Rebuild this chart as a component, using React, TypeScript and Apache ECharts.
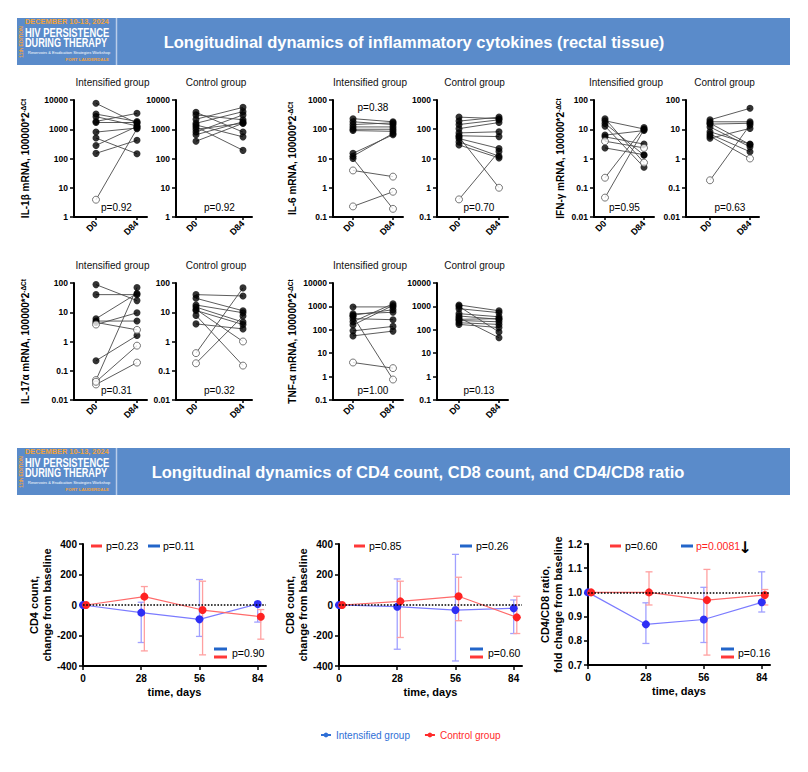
import React, { useEffect, useRef } from "react";
import * as echarts from "echarts";

const FONT = "'Liberation Sans', Arial, Helvetica, sans-serif";

// ---------------- Cytokine data (100000*2^-ΔCt), pairs D0 -> D84 ----------------
const TIMEPOINTS = ["D0", "D84"];
const GROUP_TITLES = ["Intensified group", "Control group"];

const IL1B_INT_D0 = [7700, 3300, 2700, 1850, 1700, 800, 500, 280, 150, 3.9];
const IL1B_INT_D84 = [1600, 1850, 1300, 3500, 1700, 1100, 145, 1250, 420, 1050];
const IL1B_INT_OPEN_D0 = [9];
const IL1B_INT_OPEN_D84: number[] = [];
const IL1B_CTRL_D0 = [3800, 3100, 2200, 1600, 1400, 1000, 800, 650, 390, 1200];
const IL1B_CTRL_D84 = [800, 2100, 5600, 4000, 550, 1600, 3100, 1800, 1600, 190];
const IL1B_CTRL_OPEN_D0: number[] = [];
const IL1B_CTRL_OPEN_D84: number[] = [];
const IL1B_P = ["p=0.92", "p=0.92"];

const IL6_INT_D0 = [230, 180, 145, 120, 100, 90, 15, 12, 10, 3.9, 0.23];
const IL6_INT_D84 = [180, 145, 165, 120, 100, 85, 65, 72, 0.19, 2.4, 0.73];
const IL6_INT_OPEN_D0 = [9, 10];
const IL6_INT_OPEN_D84 = [8, 9, 10];
const IL6_CTRL_D0 = [260, 190, 145, 105, 75, 60, 48, 37, 29, 55, 0.4];
const IL6_CTRL_D84 = [230, 260, 210, 170, 82, 56, 22, 12, 10.5, 1.0, 17.5];
const IL6_CTRL_OPEN_D0 = [10];
const IL6_CTRL_OPEN_D84 = [9];
const IL6_P = ["p=0.38", "p=0.70"];

const IFNG_INT_D0 = [23, 19.5, 15.8, 12.8, 6.3, 5.5, 3.9, 2.3, 0.22, 0.046];
const IFNG_INT_D84 = [0.72, 10.2, 1.3, 0.5, 9, 3.1, 2.3, 1.35, 11.5, 9.8];
const IFNG_INT_OPEN_D0 = [6, 8, 9];
const IFNG_INT_OPEN_D84 = [0, 6];
const IFNG_CTRL_D0 = [21, 18, 15, 12, 8.2, 6.8, 5.8, 4.9, 0.18, 16];
const IFNG_CTRL_D84 = [52, 18, 16, 2.5, 3.1, 1.7, 1.0, 10.7, 14, 3];
const IFNG_CTRL_OPEN_D0 = [8];
const IFNG_CTRL_OPEN_D84 = [6];
const IFNG_P = ["p=0.95", "p=0.63"];

const IL17_INT_D0 = [88, 40, 6, 5, 4.5, 0.22, 0.048, 0.034, 0.042, 3.8];
const IL17_INT_D84 = [25, 40, 44, 5, 2.5, 1.6, 70, 0.19, 0.72, 9.6];
const IL17_INT_OPEN_D0 = [6, 7, 8, 9];
const IL17_INT_OPEN_D84 = [4, 7, 8];
const IL17_CTRL_D0 = [40, 30, 17.7, 15, 11.5, 7.8, 12.5, 4, 0.4, 0.18];
const IL17_CTRL_D84 = [36, 11.2, 9.6, 4.6, 3.8, 0.15, 1.0, 2.7, 68, 7.4];
const IL17_CTRL_OPEN_D0 = [8, 9];
const IL17_CTRL_OPEN_D84 = [5, 6];
const IL17_P = ["p=0.31", "p=0.32"];

const TNF_INT_D0 = [950, 480, 380, 300, 220, 160, 90, 55, 4, 420];
const TNF_INT_D84 = [950, 560, 0.75, 270, 1300, 1100, 140, 88, 2.3, 720];
const TNF_INT_OPEN_D0 = [8];
const TNF_INT_OPEN_D84 = [2, 8];
const TNF_CTRL_D0 = [1150, 1000, 800, 490, 390, 330, 250, 200, 170, 280];
const TNF_CTRL_D84 = [650, 80, 540, 360, 280, 46, 220, 170, 125, 300];
const TNF_CTRL_OPEN_D0: number[] = [];
const TNF_CTRL_OPEN_D84: number[] = [];
const TNF_P = ["p=1.00", "p=0.13"];

// ---------------- CD4 / CD8 data: median with error range ----------------
const DAYS = [0, 28, 56, 84];
const CONTROL_DAY_OFFSET = 1.5;

const CD4_INT_MED = [0, -50, -94, 7];
const CD4_INT_LOW = [0, -246, -206, -112];
const CD4_INT_HIGH = [0, 18, 167, 22];
const CD4_CTRL_MED = [0, 55, -33, -77];
const CD4_CTRL_LOW = [0, -301, -327, -224];
const CD4_CTRL_HIGH = [0, 121, 156, -30];
const CD4_P = ["p=0.23", "p=0.11", "p=0.90"];

const CD8_INT_MED = [0, -11, -33, -22];
const CD8_INT_LOW = [0, -290, -367, -187];
const CD8_INT_HIGH = [0, 171, 332, 33];
const CD8_CTRL_MED = [0, 24, 57, -81];
const CD8_CTRL_LOW = [0, -213, -103, -187];
const CD8_CTRL_HIGH = [0, 156, 182, 57];
const CD8_P = ["p=0.85", "p=0.26", "p=0.60"];

const RATIO_INT_MED = [1, 0.868, 0.888, 0.959];
const RATIO_INT_LOW = [1, 0.789, 0.793, 0.919];
const RATIO_INT_HIGH = [1, 0.957, 1.021, 1.085];
const RATIO_CTRL_MED = [1, 1.0, 0.968, 0.989];
const RATIO_CTRL_LOW = [1, 0.948, 0.741, 0.948];
const RATIO_CTRL_HIGH = [1, 1.085, 1.095, 1.012];
const RATIO_P = ["p=0.60", "p=0.0081", "p=0.16"];

const LEGEND_NAMES = ["Intensified group", "Control group"];

// ---------------- styling ----------------
const BLUE_PT = "#2e2ef5";
const BLUE_LINE = "#7b7bff";
const BLUE_ERR = "#a0a0ff";
const RED_PT = "#ff2222";
const RED_LINE = "#ff6a6a";
const RED_ERR = "#ffa0a0";
const DASH_RED = "#ff3838";
const DASH_BLUE = "#2265c9";
const BANNER = "#5a8bca";
const ORANGE = "#f2a33a";

function logLabel(v: number) {
  const e = Math.round(Math.log10(v));
  return e >= 0 ? String(Math.round(Math.pow(10, e))) : Math.pow(10, e).toFixed(-e);
}

function txt(text: string, x: number, y: number, o: any = {}) {
  const align = o.align || "center";
  const va = o.va || "middle";
  return {
    type: "text",
    x,
    y,
    rotation: o.rotation || 0,
    scaleX: o.scaleX || 1,
    z: 100,
    silent: true,
    style: {
      text,
      fill: o.color || "#000",
      font: `${o.weight || "normal"} ${o.size || 10}px ${o.family || FONT}`,
      align,
      verticalAlign: va,
      textAlign: align,
      textVerticalAlign: va,
    },
  };
}

export default function App() {
  const ref = useRef<HTMLDivElement>(null);

  useEffect(() => {
    if (!ref.current) return;
    const chart = echarts.init(ref.current, undefined, { renderer: "svg" });

    const grids: any[] = [];
    const xAxes: any[] = [];
    const yAxes: any[] = [];
    const series: any[] = [];
    const g: any[] = [];

    // ---------- banners ----------
    const banner = (y: number, title: string, titleX: number) => {
      g.push({ type: "rect", shape: { x: 17, y, width: 773, height: 47 }, style: { fill: BANNER }, z: 90, silent: true });
      g.push({ type: "line", shape: { x1: 116.5, y1: y, x2: 116.5, y2: y + 47 }, style: { stroke: "#b9cdea", lineWidth: 1.5 }, z: 91, silent: true });
      g.push(txt("DECEMBER 10-13, 2024", 25, y + 3.5, { align: "left", color: ORANGE, weight: "bold", size: 7.4 }));
      g.push(txt("HIV PERSISTENCE", 25, y + 14, { align: "left", color: "#fff", weight: "bold", size: 12.5, scaleX: 0.75 }));
      g.push(txt("DURING THERAPY", 25, y + 24.5, { align: "left", color: "#fff", weight: "bold", size: 12.5, scaleX: 0.73 }));
      g.push(txt("Reservoirs & Eradication Strategies Workshop", 28, y + 34.5, { align: "left", color: "#fff", size: 4 }));
      g.push(txt("FORT LAUDERDALE", 109, y + 41.5, { align: "right", color: ORANGE, weight: "bold", size: 4.4 }));
      g.push(txt("11th EDITION", 21, y + 24, { color: ORANGE, weight: "bold", size: 5, rotation: Math.PI / 2 }));
      g.push(txt(title, titleX, y + 23.5, { color: "#fff", weight: "bold", size: 16.5 }));
    };
    banner(18, "Longitudinal dynamics of inflammatory cytokines (rectal tissue)", 414);
    banner(448, "Longitudinal dynamics of CD4 count, CD8 count, and CD4/CD8 ratio", 418);

    // ---------- dot plots ----------
    const ROW1 = { top: 100, height: 117 };
    const ROW2 = { top: 283, height: 117 };
    const COL_A = { nameX: 24, cols: [{ axis: 74, d0: 96, d84: 137, end: 147 }, { axis: 176, d0: 196, d84: 243, end: 252 }] };
    const COL_B = { nameX: 291, cols: [{ axis: 333, d0: 353, d84: 393, end: 403 }, { axis: 437, d0: 459, d84: 499, end: 508 }] };
    const COL_C = { nameX: 559, cols: [{ axis: 594, d0: 605, d84: 644, end: 654 }, { axis: 686, d0: 710, d84: 750, end: 759 }] };

    const PANELS = [
      { row: ROW1, col: COL_A, label: "IL-1β", yMin: 1, yMax: 10000, p: IL1B_P, pTop: [false, false],
        data: [[IL1B_INT_D0, IL1B_INT_D84, IL1B_INT_OPEN_D0, IL1B_INT_OPEN_D84], [IL1B_CTRL_D0, IL1B_CTRL_D84, IL1B_CTRL_OPEN_D0, IL1B_CTRL_OPEN_D84]] },
      { row: ROW1, col: COL_B, label: "IL-6", yMin: 0.1, yMax: 1000, p: IL6_P, pTop: [true, false],
        data: [[IL6_INT_D0, IL6_INT_D84, IL6_INT_OPEN_D0, IL6_INT_OPEN_D84], [IL6_CTRL_D0, IL6_CTRL_D84, IL6_CTRL_OPEN_D0, IL6_CTRL_OPEN_D84]] },
      { row: ROW1, col: COL_C, label: "IFN-γ", yMin: 0.01, yMax: 100, p: IFNG_P, pTop: [false, false],
        data: [[IFNG_INT_D0, IFNG_INT_D84, IFNG_INT_OPEN_D0, IFNG_INT_OPEN_D84], [IFNG_CTRL_D0, IFNG_CTRL_D84, IFNG_CTRL_OPEN_D0, IFNG_CTRL_OPEN_D84]] },
      { row: ROW2, col: COL_A, label: "IL-17α", yMin: 0.01, yMax: 100, p: IL17_P, pTop: [false, false],
        data: [[IL17_INT_D0, IL17_INT_D84, IL17_INT_OPEN_D0, IL17_INT_OPEN_D84], [IL17_CTRL_D0, IL17_CTRL_D84, IL17_CTRL_OPEN_D0, IL17_CTRL_OPEN_D84]] },
      { row: ROW2, col: COL_B, label: "TNF-α", yMin: 0.1, yMax: 10000, p: TNF_P, pTop: [false, false],
        data: [[TNF_INT_D0, TNF_INT_D84, TNF_INT_OPEN_D0, TNF_INT_OPEN_D84], [TNF_CTRL_D0, TNF_CTRL_D84, TNF_CTRL_OPEN_D0, TNF_CTRL_OPEN_D84]] },
    ];

    PANELS.forEach((pan) => {
      pan.col.cols.forEach((c, gi) => {
        const idx = grids.length;
        const u = c.d84 - c.d0;
        const [d0, d84, o0, o84] = pan.data[gi] as number[][];
        grids.push({ left: c.axis, top: pan.row.top, width: c.end - c.axis, height: pan.row.height });
        xAxes.push({
          gridIndex: idx,
          type: "value",
          min: -(c.d0 - c.axis) / u,
          max: 1 + (c.end - c.d84) / u,
          axisLine: { show: true, onZero: false, lineStyle: { color: "#000", width: 2 } },
          axisTick: { show: true, customValues: [0, 1], length: 3, lineStyle: { color: "#000", width: 1.5 } },
          axisLabel: {
            customValues: [0, 1],
            formatter: (v: number) => TIMEPOINTS[Math.round(v)],
            rotate: 45,
            fontSize: 9,
            fontWeight: "bold",
            fontFamily: FONT,
            color: "#000",
            margin: 5,
          },
          splitLine: { show: false },
        });
        const yAxis: any = {
          gridIndex: idx,
          type: "log",
          logBase: 10,
          min: pan.yMin,
          max: pan.yMax,
          axisLine: { show: true, onZero: false, lineStyle: { color: "#000", width: 2 } },
          axisTick: { show: true, length: 4, lineStyle: { color: "#000", width: 1.5 } },
          minorTick: { show: false },
          axisLabel: { formatter: logLabel, fontSize: 8.5, fontWeight: "bold", fontFamily: FONT, color: "#000", margin: 6 },
          splitLine: { show: false },
        };
        if (gi === 0) {
          yAxis.name = `{m|${pan.label} mRNA, 100000*2}{s|-ΔCt}`;
          yAxis.nameLocation = "middle";
          yAxis.nameRotate = 90;
          yAxis.nameGap = c.axis - (pan.col.nameX + 6);
          yAxis.nameTextStyle = {
            rich: {
              m: { fontSize: 10, fontWeight: "bold", fontFamily: FONT, color: "#000" },
              s: { fontSize: 6.5, fontWeight: "bold", fontFamily: FONT, color: "#000", verticalAlign: "top" },
            },
          };
        }
        yAxes.push(yAxis);

        d0.forEach((v, i) => {
          series.push({
            type: "line",
            xAxisIndex: idx,
            yAxisIndex: idx,
            data: [[0, v], [1, d84[i]]],
            symbol: "none",
            silent: true,
            lineStyle: { color: "#4a4a4a", width: 0.9 },
            z: 2,
          });
        });
        const filled: number[][] = [];
        const open: number[][] = [];
        d0.forEach((v, i) => (o0.includes(i) ? open : filled).push([0, v]));
        d84.forEach((v, i) => (o84.includes(i) ? open : filled).push([1, v]));
        series.push({ type: "scatter", xAxisIndex: idx, yAxisIndex: idx, data: filled, symbol: "circle", symbolSize: 7, itemStyle: { color: "#000" }, silent: true, z: 4 });
        series.push({ type: "scatter", xAxisIndex: idx, yAxisIndex: idx, data: open, symbol: "circle", symbolSize: 7, itemStyle: { color: "#fff", borderColor: "#555", borderWidth: 1 }, silent: true, z: 4 });

        const cx = (c.d0 + c.d84) / 2;
        g.push(txt(GROUP_TITLES[gi], (c.axis + c.end) / 2 + 2, pan.row.top - 18, { size: 10, color: "#111" }));
        const py = pan.pTop[gi] ? pan.row.top + 7 : pan.row.top + pan.row.height - 10;
        g.push(txt(pan.p[gi], cx, py, { size: 10 }));
      });
    });

    // ---------- time-course panels ----------
    const errSeries = (idx: number, xs: number[], low: number[], high: number[], color: string) => ({
      type: "custom",
      xAxisIndex: idx,
      yAxisIndex: idx,
      silent: true,
      z: 1,
      data: xs.map((x, i) => [x, low[i], high[i]]).filter((d) => d[1] !== d[2]),
      encode: { x: 0, y: [1, 2] },
      renderItem: (_p: any, api: any) => {
        const x = api.value(0);
        const a = api.coord([x, api.value(1)]);
        const b = api.coord([x, api.value(2)]);
        const st = { stroke: color, lineWidth: 1.3 };
        const cap = 3.5;
        return {
          type: "group",
          children: [
            { type: "line", shape: { x1: a[0], y1: a[1], x2: b[0], y2: b[1] }, style: st },
            { type: "line", shape: { x1: a[0] - cap, y1: a[1], x2: a[0] + cap, y2: a[1] }, style: st },
            { type: "line", shape: { x1: b[0] - cap, y1: b[1], x2: b[0] + cap, y2: b[1] }, style: st },
          ],
        };
      },
    });

    const TIME_PANELS = [
      { left: 83, top: 544, width: 183, height: 122, yMin: -400, yMax: 400, interval: 200, base: 0, dec: 0,
        name: "CD4 count,\nchange from baseline", nameGap: 27,
        med: [CD4_INT_MED, CD4_CTRL_MED], low: [CD4_INT_LOW, CD4_CTRL_LOW], high: [CD4_INT_HIGH, CD4_CTRL_HIGH] },
      { left: 339, top: 544, width: 183, height: 122, yMin: -400, yMax: 400, interval: 200, base: 0, dec: 0,
        name: "CD8 count,\nchange from baseline", nameGap: 26,
        med: [CD8_INT_MED, CD8_CTRL_MED], low: [CD8_INT_LOW, CD8_CTRL_LOW], high: [CD8_INT_HIGH, CD8_CTRL_HIGH] },
      { left: 588, top: 544, width: 182, height: 121, yMin: 0.7, yMax: 1.2, interval: 0.1, base: 1, dec: 1,
        name: "CD4/CD8 ratio,\nfold change from baseline", nameGap: 21,
        med: [RATIO_INT_MED, RATIO_CTRL_MED], low: [RATIO_INT_LOW, RATIO_CTRL_LOW], high: [RATIO_INT_HIGH, RATIO_CTRL_HIGH] },
    ];

    TIME_PANELS.forEach((tp) => {
      const idx = grids.length;
      grids.push({ left: tp.left, top: tp.top, width: tp.width, height: tp.height });
      xAxes.push({
        gridIndex: idx,
        type: "value",
        min: 0,
        max: 88,
        interval: 28,
        axisLine: { show: true, onZero: false, lineStyle: { color: "#000", width: 2 } },
        axisTick: { show: true, customValues: DAYS, length: 4, lineStyle: { color: "#000", width: 1.5 } },
        axisLabel: { customValues: DAYS, fontSize: 10, fontWeight: "bold", fontFamily: FONT, color: "#000", margin: 7 },
        splitLine: { show: false },
        name: "time, days",
        nameLocation: "middle",
        nameGap: 20,
        nameTextStyle: { fontSize: 11, fontWeight: "bold", fontFamily: FONT, color: "#000" },
      });
      yAxes.push({
        gridIndex: idx,
        type: "value",
        min: tp.yMin,
        max: tp.yMax,
        interval: tp.interval,
        axisLine: { show: true, onZero: false, lineStyle: { color: "#000", width: 2 } },
        axisTick: { show: true, length: 4, lineStyle: { color: "#000", width: 1.5 } },
        axisLabel: { formatter: (v: number) => v.toFixed(tp.dec), fontSize: 10, fontWeight: "bold", fontFamily: FONT, color: "#000", margin: 6 },
        splitLine: { show: false },
        name: tp.name,
        nameLocation: "middle",
        nameRotate: 90,
        nameGap: tp.nameGap,
        nameTextStyle: { fontSize: 11, fontWeight: "bold", fontFamily: FONT, color: "#000", lineHeight: 12.5, align: "center" },
      });
      const ctrlDays = DAYS.map((d) => d + CONTROL_DAY_OFFSET);
      series.push(errSeries(idx, DAYS, tp.low[0], tp.high[0], BLUE_ERR));
      series.push(errSeries(idx, ctrlDays, tp.low[1], tp.high[1], RED_ERR));
      series.push({
        name: LEGEND_NAMES[0],
        type: "line",
        xAxisIndex: idx,
        yAxisIndex: idx,
        data: DAYS.map((d, i) => [d, tp.med[0][i]]),
        symbol: "circle",
        symbolSize: 8,
        itemStyle: { color: BLUE_PT },
        lineStyle: { color: BLUE_LINE, width: 1.2 },
        z: 3,
        markLine: {
          silent: true,
          symbol: ["none", "none"],
          label: { show: false },
          lineStyle: { type: "dotted", color: "#000", width: 1.6 },
          data: [{ yAxis: tp.base }],
        },
      });
      series.push({
        name: LEGEND_NAMES[1],
        type: "line",
        xAxisIndex: idx,
        yAxisIndex: idx,
        data: ctrlDays.map((d, i) => [d, tp.med[1][i]]),
        symbol: "circle",
        symbolSize: 8,
        itemStyle: { color: RED_PT },
        lineStyle: { color: RED_LINE, width: 1.2 },
        z: 3,
      });
    });

    // ---------- p-value keys in time panels ----------
    const dash = (x: number, y: number, w: number, color: string) => ({
      type: "rect", shape: { x, y: y - 1.5, width: w, height: 3 }, style: { fill: color }, z: 100, silent: true,
    });
    const keys = [
      { p: CD4_P, red: 91, redT: 106, blue: 148, blueT: 163, bot: 214, botT: 232, alert: false },
      { p: CD8_P, red: 354, redT: 369, blue: 460, blueT: 476, bot: 470, botT: 488, alert: false },
      { p: RATIO_P, red: 610, redT: 625, blue: 681, blueT: 696, bot: 721, botT: 738, alert: true },
    ];
    keys.forEach((k) => {
      g.push(dash(k.red, 546, 11, DASH_RED));
      g.push(txt(k.p[0], k.redT, 546, { align: "left", size: 10.5 }));
      g.push(dash(k.blue, 546, 12, DASH_BLUE));
      g.push(txt(k.p[1], k.blueT, 546, { align: "left", size: 10.5, color: k.alert ? "#ff1f1f" : "#000" }));
      if (k.alert) g.push(txt("↓", 745, 547, { size: 16, weight: "bold", family: "'DejaVu Sans', sans-serif" }));
      g.push(dash(k.bot, 649, 13, DASH_BLUE));
      g.push(dash(k.bot, 657, 13, DASH_RED));
      g.push(txt(k.p[2], k.botT, 653, { align: "left", size: 10.5 }));
    });

    chart.setOption({
      animation: false,
      backgroundColor: "#fff",
      grid: grids,
      xAxis: xAxes,
      yAxis: yAxes,
      series,
      graphic: { elements: g },
      legend: {
        data: [
          { name: LEGEND_NAMES[0], textStyle: { color: "#2f6fd6" }, itemStyle: { color: "#2f6fd6" }, lineStyle: { color: "#2f6fd6" } },
          { name: LEGEND_NAMES[1], textStyle: { color: "#ff2b2b" }, itemStyle: { color: "#ff2b2b" }, lineStyle: { color: "#ff2b2b" } },
        ],
        left: 320,
        top: 730,
        padding: 0,
        itemWidth: 10,
        itemHeight: 6,
        itemGap: 14,
        selectedMode: false,
        textStyle: { fontSize: 10, fontFamily: FONT },
      },
    });

    return () => chart.dispose();
  }, []);

  return (
    <div
      ref={ref}
      style={{ position: "absolute", left: 0, top: 0, width: 808, height: 772, background: "#fff" }}
    />
  );
}
